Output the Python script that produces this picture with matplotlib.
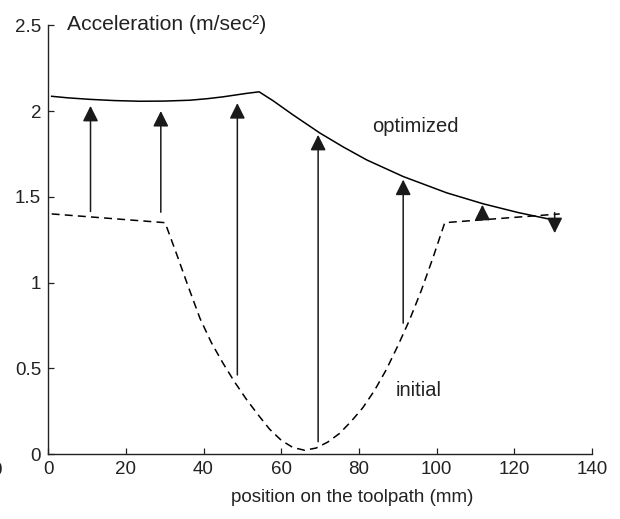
import matplotlib
matplotlib.use("Agg")
import matplotlib.pyplot as plt

plt.rcParams['font.family'] = ['Liberation Sans', 'DejaVu Sans']

# optimized acceleration profile (solid)
opt_x = [0.9, 5.0, 10.8, 17.0, 23.6, 30.0, 36.5, 41.0, 45.1, 49.0, 51.1, 54.3,
         57.9, 63.0, 70.0, 76.0, 82.0, 91.4, 102.6, 112.0, 121.0, 130.0]
opt_y = [2.086, 2.077, 2.068, 2.061, 2.057, 2.058, 2.063, 2.072, 2.083, 2.096, 2.103, 2.112,
         2.060, 1.978, 1.871, 1.790, 1.715, 1.618, 1.523, 1.459, 1.408, 1.365]

# initial acceleration profile (dashed)
init_x = [0.9, 30.1, 33.0, 36.0, 39.1, 42.0, 45.0, 48.0, 51.0, 54.0, 57.0, 60.0, 63.0, 66.0,
          69.0, 72.0, 75.0, 78.0, 81.0, 84.0, 87.0, 90.0, 93.0, 96.0, 99.0, 102.1, 131.7]
init_y = [1.40, 1.349, 1.17, 0.98, 0.79, 0.65, 0.53, 0.42, 0.32, 0.23, 0.145, 0.08, 0.038, 0.022,
          0.035, 0.07, 0.12, 0.19, 0.27, 0.37, 0.49, 0.63, 0.78, 0.95, 1.14, 1.349, 1.40]

# arrows: x, start, end
arrow_x = [10.9, 29.0, 48.7, 69.5, 91.4, 111.8, 130.4]
arrow_from = [1.414, 1.41, 0.461, 0.072, 0.763, 1.385, 1.408]
arrow_to = [2.03, 2.00, 2.046, 1.861, 1.60, 1.453, 1.288]

xticks = [0, 20, 40, 60, 80, 100, 120, 140]
yticks = [0, 0.5, 1, 1.5, 2, 2.5]
ytick_labels = ['0', '0.5', '1', '1.5', '2', '2.5']

fig = plt.figure(figsize=(6.2, 5.19), dpi=100)
ax = fig.add_axes([0.0777, 0.1252, 0.8771, 0.8261])

ax.plot(opt_x, opt_y, color='black', lw=1.1)
ax.plot(init_x, init_y, color='black', lw=1.1, linestyle=(0, (5.2, 3.4)))

for x, y0, y1 in zip(arrow_x, arrow_from, arrow_to):
    ax.annotate('', xy=(x, y1), xytext=(x, y0),
                arrowprops=dict(arrowstyle='-|>,head_length=0.47,head_width=0.235',
                                mutation_scale=20, lw=1.1, color='#1a1a1a',
                                shrinkA=0, shrinkB=0))

ax.set_xlim(0, 140)
ax.set_ylim(0, 2.5)
ax.set_xticks(xticks)
ax.set_yticks(yticks)
ax.set_yticklabels(ytick_labels)
ax.tick_params(direction='in', length=4, width=0.9, labelsize=13.5, pad=5, colors='#222222')
ax.spines['top'].set_visible(False)
ax.spines['right'].set_visible(False)
for s in ['left', 'bottom']:
    ax.spines[s].set_linewidth(1.0)
    ax.spines[s].set_color('#222222')

ax.text(94.5, 1.91, 'optimized', fontsize=14.5, ha='center', va='center', color='#222222')
ax.text(95.3, 0.373, 'initial', fontsize=14.5, ha='center', va='center', color='#222222')

fig.text(67 / 620, 1 - 30 / 519, 'Acceleration (m/sec²)', fontsize=15.2, ha='left', va='baseline', color='#222222')
fig.text(352 / 620, 1 - 502 / 519, 'position on the toolpath (mm)', fontsize=13.5, ha='center', va='baseline', color='#222222')
fig.text(-4 / 620, 1 - 475 / 519, '0', fontsize=13.5, ha='center', va='baseline', color='#222222')

fig.savefig('out.png', dpi=100)
